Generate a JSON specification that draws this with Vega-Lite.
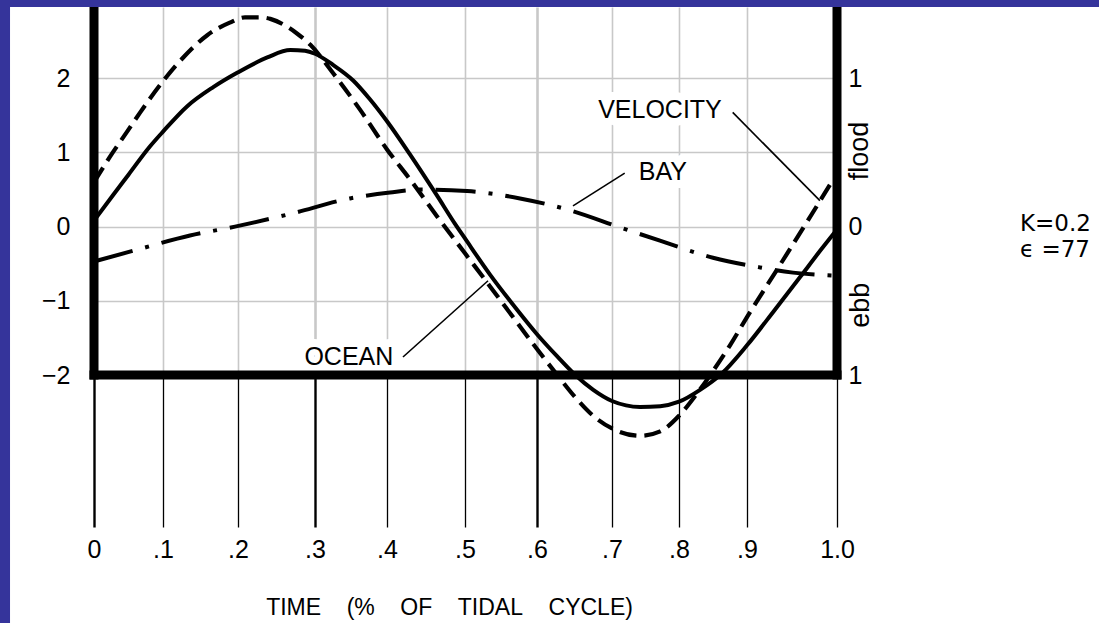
{
  "$schema": "https://vega.github.io/schema/vega-lite/v6.json",
  "width": 743,
  "height": 368,
  "autosize": {"type": "none"},
  "padding": {"left": 94, "top": 7, "right": 262, "bottom": 248},
  "background": "white",
  "config": {
    "view": {"stroke": null},
    "font": "Liberation Sans",
    "axis": {"labelFont": "Liberation Sans", "titleFont": "Liberation Sans"}
  },
  "datasets": {
    "ocean": [
      {"t": 0, "h": 0.08}, {"t": 0.028, "h": 0.43}, {"t": 0.05, "h": 0.7},
      {"t": 0.081, "h": 1.08}, {"t": 0.1, "h": 1.28}, {"t": 0.132, "h": 1.62}, {"t": 0.167, "h": 1.88},
      {"t": 0.2, "h": 2.08}, {"t": 0.238, "h": 2.28}, {"t": 0.268, "h": 2.38}, {"t": 0.287, "h": 2.37},
      {"t": 0.3, "h": 2.33}, {"t": 0.325, "h": 2.18}, {"t": 0.353, "h": 1.97}, {"t": 0.376, "h": 1.72},
      {"t": 0.4, "h": 1.42}, {"t": 0.429, "h": 0.98}, {"t": 0.464, "h": 0.42}, {"t": 0.487, "h": 0.04},
      {"t": 0.5, "h": -0.16}, {"t": 0.535, "h": -0.65}, {"t": 0.569, "h": -1.08}, {"t": 0.6, "h": -1.45},
      {"t": 0.627, "h": -1.75}, {"t": 0.651, "h": -2.0}, {"t": 0.675, "h": -2.2}, {"t": 0.7, "h": -2.35},
      {"t": 0.742, "h": -2.43}, {"t": 0.772, "h": -2.42}, {"t": 0.8, "h": -2.36}, {"t": 0.831, "h": -2.2},
      {"t": 0.863, "h": -1.98}, {"t": 0.9, "h": -1.6}, {"t": 0.931, "h": -1.12}, {"t": 0.959, "h": -0.68},
      {"t": 0.981, "h": -0.33}, {"t": 0.998, "h": -0.07}
    ],
    "bay": [
      {"t": 0, "h": -0.47}, {"t": 0.0667, "h": -0.3}, {"t": 0.136, "h": -0.12}, {"t": 0.196, "h": 0.0},
      {"t": 0.2675, "h": 0.17}, {"t": 0.3486, "h": 0.38}, {"t": 0.4038, "h": 0.46}, {"t": 0.4462, "h": 0.5},
      {"t": 0.5028, "h": 0.48}, {"t": 0.5764, "h": 0.38}, {"t": 0.644, "h": 0.22}, {"t": 0.7119, "h": -0.01},
      {"t": 0.7716, "h": -0.19}, {"t": 0.85, "h": -0.42}, {"t": 0.9144, "h": -0.55}, {"t": 0.9511, "h": -0.62},
      {"t": 0.9978, "h": -0.66}
    ],
    "velocity": [
      {"t": 0, "vel": 0.3}, {"t": 0.023, "vel": 0.47}, {"t": 0.048, "vel": 0.64},
      {"t": 0.067, "vel": 0.77}, {"t": 0.1, "vel": 0.98}, {"t": 0.127, "vel": 1.14}, {"t": 0.159, "vel": 1.29},
      {"t": 0.189, "vel": 1.375}, {"t": 0.209, "vel": 1.41}, {"t": 0.229, "vel": 1.41}, {"t": 0.242, "vel": 1.4},
      {"t": 0.258, "vel": 1.365}, {"t": 0.277, "vel": 1.3}, {"t": 0.294, "vel": 1.225}, {"t": 0.325, "vel": 1.035},
      {"t": 0.363, "vel": 0.785}, {"t": 0.4, "vel": 0.52}, {"t": 0.43, "vel": 0.315}, {"t": 0.464, "vel": 0.07},
      {"t": 0.5, "vel": -0.18}, {"t": 0.539, "vel": -0.43}, {"t": 0.569, "vel": -0.625}, {"t": 0.6, "vel": -0.825},
      {"t": 0.627, "vel": -1.0}, {"t": 0.651, "vel": -1.15}, {"t": 0.675, "vel": -1.275}, {"t": 0.7, "vel": -1.36},
      {"t": 0.742, "vel": -1.41}, {"t": 0.772, "vel": -1.38}, {"t": 0.8, "vel": -1.275}, {"t": 0.824, "vel": -1.14},
      {"t": 0.846, "vel": -1.0}, {"t": 0.875, "vel": -0.8}, {"t": 0.9, "vel": -0.61}, {"t": 0.937, "vel": -0.255},
      {"t": 0.967, "vel": 0.035}, {"t": 0.994, "vel": 0.3}
    ],
    "annotations": [
      {"label": "VELOCITY", "t": 0.7716, "h": 1.568},
      {"label": "BAY", "t": 0.776, "h": 0.73},
      {"label": "OCEAN", "t": 0.347, "h": -1.757}
    ],
    "leaders": [
      {"x1": 0.879, "y1": 1.54, "x2": 0.981, "y2": 0.35},
      {"x1": 0.719, "y1": 0.72, "x2": 0.648, "y2": 0.28},
      {"x1": 0.4205, "y1": -1.757, "x2": 0.532, "y2": -0.73}
    ],
    "params": [
      {"label": "K=0.2", "t": 1.2033, "h": 0.04},
      {"label": "ϵ =77", "t": 1.2033, "h": -0.32}
    ],
    "flow": [
      {"label": "flood", "t": 1.026, "vel": 0.51},
      {"label": "ebb", "t": 1.027, "vel": -0.53}
    ]
  },
  "layer": [
    {
      "layer": [
        {
          "data": {"name": "annotations"},
          "mark": {"type": "text", "fontSize": 25, "align": "center", "baseline": "middle", "color": "white", "stroke": "white", "strokeWidth": 16, "strokeJoin": "round"},
          "encoding": {
            "x": {
              "field": "t", "type": "quantitative",
              "scale": {"domain": [0, 0.1, 0.2, 0.3, 0.4, 0.5, 0.6, 0.7, 0.8, 0.9, 1], "range": [0, 69, 144, 221, 293, 371, 443, 518, 585, 653, 743], "nice": false, "zero": false},
              "axis": {
                "values": [0, 0.1, 0.2, 0.3, 0.4, 0.5, 0.6, 0.7, 0.8, 0.9, 1],
                "domain": false,
                "grid": true,
                "gridColor": "#c8c8c8",
                "gridWidth": {"condition": {"test": "datum.value == 0.3 || datum.value == 0.6", "value": 2.6}, "value": 1.6},
                "ticks": true,
                "tickSize": 152,
                "tickColor": "black",
                "tickWidth": {"condition": {"test": "datum.value == 0 || datum.value == 0.3 || datum.value == 0.6", "value": 2.4}, "value": 1.3},
                "labelExpr": "datum.value == 0 ? '0' : datum.value == 1 ? '1.0' : replace(format(datum.value, '.1f'), '0.', '.')",
                "labelFontSize": 25,
                "labelColor": "black",
                "labelPadding": 22,
                "labelBaseline": "middle",
                "labelFlush": false,
                "labelOverlap": false,
                "title": "TIME\u00a0\u00a0\u00a0\u00a0(%\u00a0\u00a0\u00a0\u00a0OF\u00a0\u00a0\u00a0\u00a0TIDAL\u00a0\u00a0\u00a0\u00a0CYCLE)",
                "titleFontSize": 23,
                "titleFontWeight": "normal",
                "titleColor": "black",
                "titleX": 355,
                "titleY": 232,
                "titleAlign": "center",
                "titleBaseline": "middle"
              }
            },
            "y": {
              "field": "h", "type": "quantitative",
              "scale": {"domain": [-2, 2.96], "nice": false, "zero": false},
              "axis": {
                "values": [-2, -1, 0, 1, 2],
                "format": "d",
                "domain": false,
                "ticks": false,
                "tickSize": 0,
                "grid": true,
                "gridColor": "#c8c8c8",
                "gridWidth": 1.6,
                "labelFontSize": 25,
                "labelColor": "black",
                "labelPadding": 24,
                "labelFlush": false,
                "labelOverlap": false,
                "title": null
              }
            },
            "text": {"field": "label"}
          }
        },
        {
          "data": {"values": [{}]},
          "mark": {"type": "rule", "color": "black", "strokeWidth": 9, "strokeCap": "square"},
          "encoding": {
            "x": {"datum": 0, "type": "quantitative"},
            "y": {"datum": -2, "type": "quantitative"},
            "y2": {"datum": 2.96}
          }
        },
        {
          "data": {"values": [{}]},
          "mark": {"type": "rule", "color": "black", "strokeWidth": 9, "strokeCap": "square"},
          "encoding": {
            "x": {"datum": 1, "type": "quantitative"},
            "y": {"datum": -2, "type": "quantitative"},
            "y2": {"datum": 2.96}
          }
        },
        {
          "data": {"values": [{}]},
          "mark": {"type": "rule", "color": "black", "strokeWidth": 9, "strokeCap": "square"},
          "encoding": {
            "x": {"datum": 0, "type": "quantitative"},
            "x2": {"datum": 1},
            "y": {"datum": -2, "type": "quantitative"}
          }
        },
        {
          "data": {"name": "bay"},
          "mark": {"type": "line", "color": "black", "strokeWidth": 4, "strokeDash": [40, 13, 4, 13], "interpolate": "monotone"},
          "encoding": {
            "x": {"field": "t", "type": "quantitative"},
            "y": {"field": "h", "type": "quantitative"}
          }
        },
        {
          "data": {"name": "ocean"},
          "mark": {"type": "line", "color": "black", "strokeWidth": 4, "interpolate": "monotone"},
          "encoding": {
            "x": {"field": "t", "type": "quantitative"},
            "y": {"field": "h", "type": "quantitative"}
          }
        },
        {
          "data": {"name": "leaders"},
          "mark": {"type": "rule", "color": "black", "strokeWidth": 1.6},
          "encoding": {
            "x": {"field": "x1", "type": "quantitative"},
            "y": {"field": "y1", "type": "quantitative"},
            "x2": {"field": "x2"},
            "y2": {"field": "y2"}
          }
        },
        {
          "data": {"name": "annotations"},
          "mark": {"type": "text", "fontSize": 25, "align": "center", "baseline": "middle", "color": "black"},
          "encoding": {
            "x": {"field": "t", "type": "quantitative"},
            "y": {"field": "h", "type": "quantitative"},
            "text": {"field": "label"}
          }
        },
        {
          "data": {"name": "params"},
          "mark": {"type": "text", "font": "DejaVu Sans", "fontSize": 23, "align": "left", "baseline": "middle", "color": "black"},
          "encoding": {
            "x": {"field": "t", "type": "quantitative"},
            "y": {"field": "h", "type": "quantitative"},
            "text": {"field": "label"}
          }
        },
        {
          "data": {"values": [{}]},
          "mark": {"type": "rect", "color": "#35349b"},
          "encoding": {
            "x": {"datum": -0.3, "type": "quantitative"},
            "x2": {"datum": -0.1217},
            "y": {"datum": -7, "type": "quantitative"},
            "y2": {"datum": 3.5}
          }
        },
        {
          "data": {"values": [{}]},
          "mark": {"type": "rect", "color": "#35349b"},
          "encoding": {
            "x": {"datum": -0.3, "type": "quantitative"},
            "x2": {"datum": 1.6},
            "y": {"datum": 2.96, "type": "quantitative"},
            "y2": {"datum": 3.5}
          }
        }
      ]
    },
    {
      "layer": [
        {
          "data": {"name": "velocity"},
          "mark": {"type": "line", "color": "black", "strokeWidth": 4.2, "strokeDash": [17, 8], "interpolate": "monotone"},
          "encoding": {
            "x": {"field": "t", "type": "quantitative"},
            "y": {
              "field": "vel", "type": "quantitative",
              "scale": {"domain": [-1, 1.48], "nice": false, "zero": false},
              "axis": {
                "orient": "right",
                "values": [-1, 0, 1],
                "labelExpr": "format(abs(datum.value), 'd')",
                "domain": false,
                "ticks": false,
                "tickSize": 0,
                "grid": false,
                "labelFontSize": 25,
                "labelColor": "black",
                "labelPadding": 11,
                "labelBaseline": "middle",
                "labelFlush": false,
                "labelOverlap": false,
                "title": null
              }
            }
          }
        },
        {
          "data": {"name": "flow"},
          "mark": {"type": "text", "fontSize": 27, "angle": 270, "align": "center", "baseline": "middle", "color": "black"},
          "encoding": {
            "x": {"field": "t", "type": "quantitative"},
            "y": {"field": "vel", "type": "quantitative"},
            "text": {"field": "label"}
          }
        }
      ]
    }
  ],
  "resolve": {"scale": {"y": "independent"}}
}
